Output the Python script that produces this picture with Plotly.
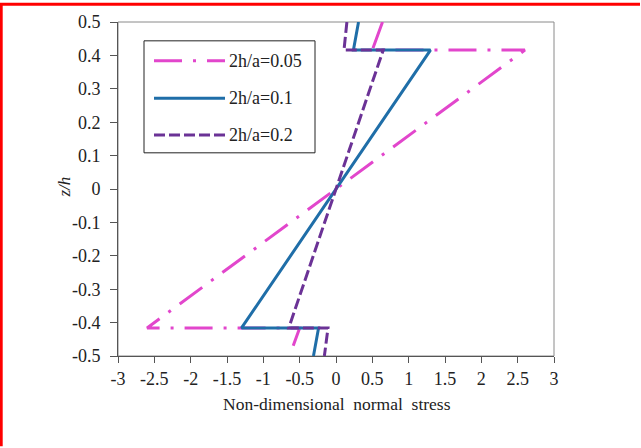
import plotly.graph_objects as go

# Through-thickness normal stress profiles (z/h vs non-dimensional stress)
z_levels = [0.5, 0.416, 0.416, -0.416, -0.416, -0.5]

stress_005 = [0.64, 0.50, 2.60, -2.60, -0.50, -0.64]
stress_01 = [0.31, 0.24, 1.30, -1.30, -0.24, -0.31]
stress_02 = [0.15, 0.11, 0.65, -0.65, -0.11, -0.16]

series_names = ["2h/a=0.05", "2h/a=0.1", "2h/a=0.2"]
series_colors = ["#E246CC", "#1F6EA8", "#6B3296"]
series_dash = ["28px,11px,3px,11px", "solid", "11px,4px"]

x_ticks = [-3, -2.5, -2, -1.5, -1, -0.5, 0, 0.5, 1, 1.5, 2, 2.5, 3]
x_tick_text = ["-3", "-2.5", "-2", "-1.5", "-1", "-0.5", "0", "0.5", "1", "1.5", "2", "2.5", "3"]
y_ticks = [0.5, 0.4, 0.3, 0.2, 0.1, 0, -0.1, -0.2, -0.3, -0.4, -0.5]
y_tick_text = ["0.5", "0.4", "0.3", "0.2", "0.1", "0", "-0.1", "-0.2", "-0.3", "-0.4", "-0.5"]

FONT = "Liberation Serif, Times New Roman, serif"
W, H = 641, 448
ML, MR, MT, MB = 118, 87, 19, 92
PW, PH = W - ML - MR, H - MT - MB


def px_x(px):
    return (px - ML) / PW


def px_y(py):
    return (H - MB - py) / PH


fig = go.Figure()
for vals, name, color, dash in zip([stress_005, stress_01, stress_02],
                                   series_names, series_colors, series_dash):
    fig.add_trace(go.Scatter(
        x=vals, y=z_levels, mode="lines", name=name,
        line=dict(color=color, width=3, dash=dash),
        showlegend=False,
    ))

shapes = []
annotations = []

# plot frame (top/right)
shapes.append(dict(type="rect", xref="paper", yref="paper", x0=0, x1=1, y0=0, y1=1,
                   line=dict(color="#8a8a8a", width=1), layer="below"))

# legend box
lx0, lx1, ly0, ly1 = px_x(144), px_x(315), px_y(151), px_y(38)
shapes.append(dict(type="rect", xref="paper", yref="paper", x0=lx0, x1=lx1, y0=ly0, y1=ly1,
                   line=dict(color="#222222", width=1), fillcolor="white", layer="above"))
row_py = [58, 96, 133]
for name, color, dash, py in zip(series_names, series_colors, series_dash, row_py):
    shapes.append(dict(type="line", xref="paper", yref="paper",
                       x0=px_x(154), x1=px_x(225), y0=px_y(py), y1=px_y(py),
                       line=dict(color=color, width=3, dash=dash), layer="above"))
    annotations.append(dict(xref="paper", yref="paper", x=px_x(227), y=px_y(py),
                            text=name, showarrow=False, xanchor="left", yanchor="middle",
                            font=dict(family=FONT, size=18, color="#222222")))

# axis titles
annotations.append(dict(xref="paper", yref="paper", x=px_x(337), y=px_y(404),
                        text="Non-dimensional  normal  stress", showarrow=False,
                        xanchor="center", yanchor="middle",
                        font=dict(family=FONT, size=17.5, color="#222222")))
annotations.append(dict(xref="paper", yref="paper", x=px_x(65), y=px_y(186),
                        text="<i>z/h</i>", showarrow=False, textangle=-90,
                        xanchor="center", yanchor="middle",
                        font=dict(family=FONT, size=17, color="#222222")))

# red page edge along the left and top sides, as one open path
edge = "M{:.5f},{:.5f} L{:.5f},{:.5f} L{:.5f},{:.5f}".format(
    px_x(1.2), px_y(H - 1), px_x(1.2), px_y(1.2), px_x(W - 1), px_y(1.2))
shapes.append(dict(type="path", xref="paper", yref="paper", path=edge,
                   line=dict(color="#FF0000", width=3), fillcolor="rgba(0,0,0,0)",
                   layer="above"))

fig.update_layout(
    width=W, height=H,
    margin=dict(l=ML, r=MR, t=MT, b=MB),
    paper_bgcolor="white", plot_bgcolor="white",
    showlegend=False,
    shapes=shapes, annotations=annotations,
    font=dict(family=FONT, size=18, color="#222222"),
    xaxis=dict(range=[-3, 3], tickvals=x_ticks, ticktext=x_tick_text,
               showgrid=False, zeroline=False, showline=True, linecolor="#555555",
               linewidth=1, ticks="outside", ticklen=6, tickcolor="#555555",
               tickfont=dict(family=FONT, size=18, color="#222222")),
    yaxis=dict(range=[-0.5, 0.5], tickvals=y_ticks, ticktext=y_tick_text,
               showgrid=False, zeroline=False, showline=True, linecolor="#555555",
               linewidth=1, ticks="outside", ticklen=7, tickcolor="#555555",
               ticklabelstandoff=6,
               tickfont=dict(family=FONT, size=18, color="#222222")),
)

fig.write_html("out.html")
